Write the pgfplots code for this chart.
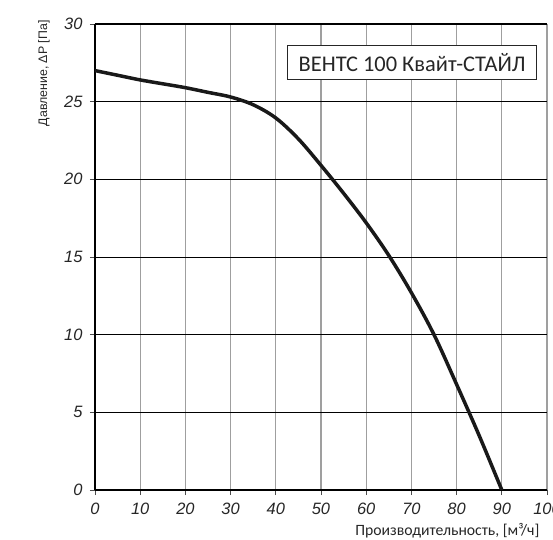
\documentclass[border=0pt]{standalone}
\usepackage{fontspec}
\setmainfont{Liberation Sans}
\newfontfamily\carlito{Carlito}
\usepackage{pgfplots}
\pgfplotsset{compat=1.18}
\begin{document}
\begin{tikzpicture}
\begin{axis}[
    scale only axis,
    width=452bp, height=466bp,
    xmin=0, xmax=100, ymin=0, ymax=30,
    xtick={0,10,...,100}, ytick={0,5,...,30},
    axis x line*=bottom, axis y line*=left,
    axis line style={-, black, line width=1.5bp},
    xmajorgrids, ymajorgrids,
    x grid style={gray!75, line width=1.2bp},
    y grid style={black, line width=0.9bp},
    tick align=outside, major tick length=5bp,
    tick style={black!70, line width=0.8bp},
    ticklabel style={font=\itshape\fontsize{16.5}{16.5}\selectfont, text=black!85},
    /pgf/number format/assume math mode=true,
    xticklabel style={yshift=-5bp},
    yticklabel style={xshift=-4bp},
    ylabel={Давление, ΔР [Па]},
    every axis y label/.style={at={(axis description cs:-0.113,1.015)}, anchor=east, rotate=90,
        font=\fontsize{12.4}{13}\selectfont, text=black!85},
    xlabel={Производительность, [м³/ч]},
    every axis x label/.style={at={(axis description cs:0.991,-0.088)}, anchor=east,
        font=\carlito\fontsize{15.8}{16}\selectfont, text=black!85},
]
\addplot[black!90, line width=3.5bp, smooth, tension=0.55] coordinates {
    (0,27) (5,26.7) (10,26.4) (15,26.15) (20,25.9) (25,25.6) (30,25.3)
    (35,24.8) (40,23.95) (45,22.6) (50,20.9) (55,19.1) (60,17.2) (65,15.1)
    (70,12.7) (75,10) (80,6.8) (85,3.5) (90,0)
};
\draw[black, line width=1.6bp] (rel axis cs:0,1) -- (rel axis cs:1,1);
\node[draw=black!85, line width=0.8bp, fill=white, anchor=north east,
    inner xsep=11bp, minimum height=34bp,
    font=\carlito\fontsize{22.5}{22.5}\selectfont, text=black!85]
    at (axis cs:97.8,28.64) {ВЕНТС 100 Квайт-СТАЙЛ};
\coordinate (ll) at (rel axis cs:0,0);
\coordinate (ur) at (rel axis cs:1,1);
\end{axis}
\pgfresetboundingbox
\path ([shift={(-95bp,-50bp)}]ll) rectangle ([shift={(6bp,24bp)}]ur);
\end{tikzpicture}
\end{document}
